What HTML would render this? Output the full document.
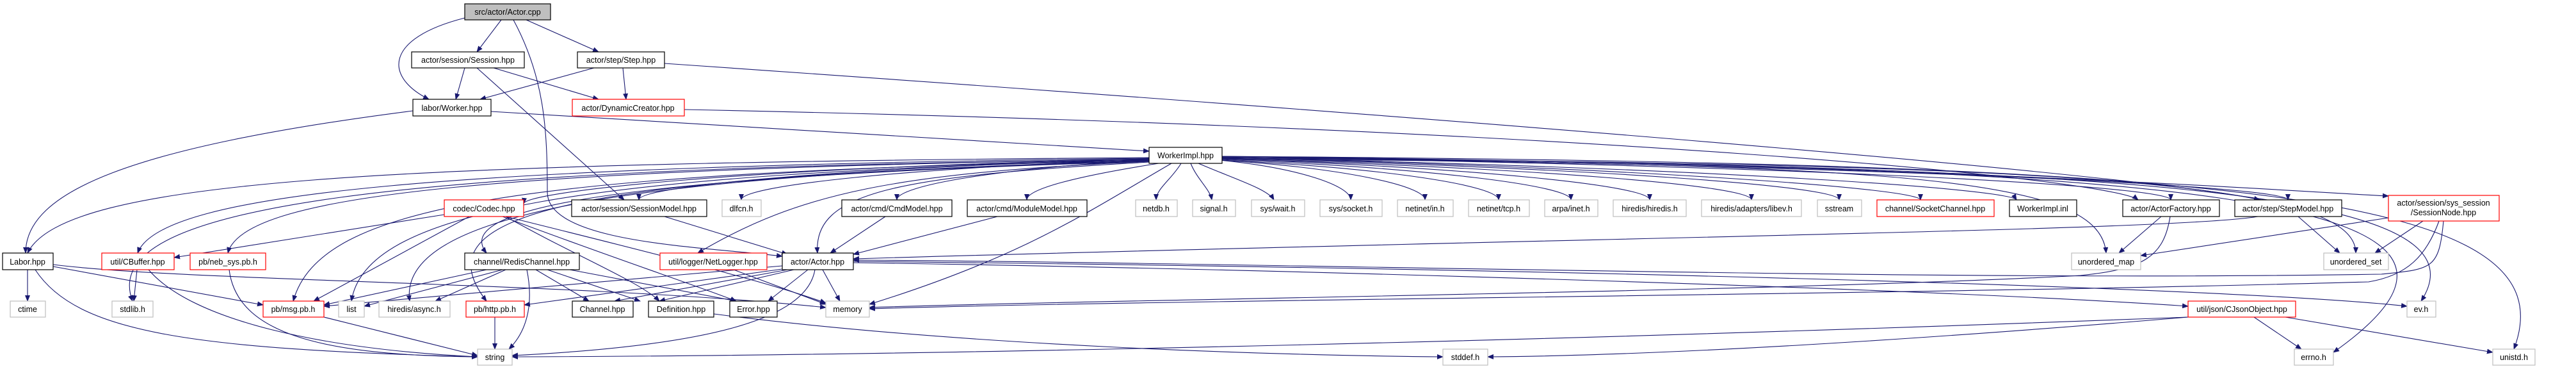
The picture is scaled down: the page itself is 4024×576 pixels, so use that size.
<!DOCTYPE html>
<html><head><meta charset="utf-8"><style>
html,body{margin:0;padding:0;background:#fff;}
svg{display:block;}
text{font-family:"Liberation Sans",sans-serif;font-size:12.5px;text-anchor:middle;fill:#000;}
.e{fill:none;stroke:#191970;stroke-width:1.1;marker-end:url(#a);}
.b{fill:#fff;stroke:#000;stroke-width:1.2;}
.r{fill:#fff;stroke:#f00;stroke-width:1.2;}
.g{fill:#fff;stroke:#bfbfbf;stroke-width:1.2;}
</style></head><body>
<svg width="4024" height="576" viewBox="0 0 4024 576" xmlns="http://www.w3.org/2000/svg">
<defs><marker id="a" markerWidth="10" markerHeight="8" refX="9" refY="4" orient="auto" markerUnits="userSpaceOnUse"><path d="M0,0 L10,4 L0,8 z" fill="#191970"/></marker></defs>
<g>
<!-- Actor.cpp -->
<path class="e" d="M726 28 C600 60 600 120 670 155"/>
<path class="e" d="M783 31 L745 81"/>
<path class="e" d="M822 31 L935 81"/>
<path class="e" d="M802 31 C850 120 855 200 855 300 C855 380 1100 385 1222 400"/>
<!-- Session -->
<path class="e" d="M726 106 L712 155"/>
<path class="e" d="M771 106 L935 155"/>
<path class="e" d="M745 106 L975 312"/>
<!-- Step -->
<path class="e" d="M928 106 L750 155"/>
<path class="e" d="M973 106 L978 155"/>
<path class="e" d="M1038 99 C2500 200 3400 280 3530 312"/>
<!-- Worker -->
<path class="e" d="M767 174 L1795 236"/>
<path class="e" d="M645 173 C200 230 40 300 40 395"/>
<!-- Dyn -->
<path class="e" d="M1069 171 C2500 200 3300 280 3340 312"/>
<!-- WorkerImpl to row4 -->
<path class="e" d="M1800 248 C1143 262 820 300 818 318"/>
<path class="e" d="M1800 248 C1319 262 998 290 998 312"/>
<path class="e" d="M1800 249 C1415 262 1158 290 1158 312"/>
<path class="e" d="M1800 250 C1561 262 1401 290 1401 312"/>
<path class="e" d="M1810 255 C1682 275 1604 295 1604 312"/>
<path class="e" d="M1845 255 C1830 280 1806 295 1806 312"/>
<path class="e" d="M1860 255 C1870 280 1890 295 1893 312"/>
<path class="e" d="M1872 255 C1930 280 1980 295 1990 312"/>
<path class="e" d="M1905 250 C2028 262 2110 290 2110 312"/>
<path class="e" d="M1905 250 C2098 262 2226 290 2226 312"/>
<path class="e" d="M1905 250 C2167 262 2341 290 2341 312"/>
<path class="e" d="M1905 249 C2235 262 2454 290 2454 312"/>
<path class="e" d="M1905 248 C2309 262 2577 290 2577 312"/>
<path class="e" d="M1905 248 C2404 262 2736 290 2736 312"/>
<path class="e" d="M1905 247 C2486 262 2873 290 2873 312"/>
<path class="e" d="M1905 246 C2577 262 3000 295 3000 312"/>
<path class="e" d="M1905 246 C2680 262 3140 295 3150 312"/>
<path class="e" d="M1905 245 C2800 258 3391 290 3391 312"/>
<path class="e" d="M1905 245 C2910 258 3574 290 3574 312"/>
<path class="e" d="M1905 244 C3000 255 3600 300 3731 306"/>
<!-- WorkerImpl to lower left -->
<path class="e" d="M1795 246 C600 255 100 280 43 395"/>
<path class="e" d="M1795 247 C700 260 250 300 215 395"/>
<path class="e" d="M1795 248 C800 265 380 300 356 395"/>
<path class="e" d="M1795 250 C800 270 500 320 458 470"/>
<path class="e" d="M1795 250 C900 270 570 330 549 470"/>
<path class="e" d="M1795 251 C1000 272 620 330 640 470"/>
<path class="e" d="M1795 252 C900 275 650 330 760 470"/>
<path class="e" d="M1795 252 C1000 275 700 320 760 395"/>
<path class="e" d="M1795 252 C1400 270 1250 300 1090 395"/>
<path class="e" d="M1795 253 C1400 275 1270 300 1277 395"/>
<path class="e" d="M1795 249 C600 262 150 320 207 470"/>
<path class="e" d="M1830 255 C1700 330 1600 400 1358 475"/>
<!-- WorkerImpl to lower right -->
<path class="e" d="M1909 245 C3300 260 3900 290 3782 470"/>
<path class="e" d="M1909 245 C3400 260 4000 300 3645 550"/>
<path class="e" d="M1909 244 C3500 255 4020 300 3927 545"/>
<path class="e" d="M1909 248 C3000 255 3280 280 3290 395"/>
<path class="e" d="M1909 247 C3200 255 3680 280 3680 395"/>
<!-- Codec -->
<path class="e" d="M694 335 L272 402"/>
<path class="e" d="M733 338 L490 470"/>
<path class="e" d="M790 338 C900 400 1000 440 1030 470"/>
<path class="e" d="M785 338 C950 400 1100 450 1150 470"/>
<path class="e" d="M790 338 C1000 390 1200 440 1290 473"/>
<!-- Redis -->
<path class="e" d="M760 421 L506 476"/>
<path class="e" d="M785 421 L569 478"/>
<path class="e" d="M790 421 L680 470"/>
<path class="e" d="M823 421 C835 480 820 520 795 545"/>
<path class="e" d="M837 421 L920 470"/>
<path class="e" d="M855 421 L1000 470"/>
<path class="e" d="M890 421 L1150 470"/>
<!-- Labor -->
<path class="e" d="M43 421 L43 470"/>
<path class="e" d="M55 421 C120 520 300 545 746 557"/>
<path class="e" d="M83 416 L411 476"/>
<path class="e" d="M83 413 C300 440 900 440 1290 480"/>
<!-- CBuf / neb / msg / http -->
<path class="e" d="M214 421 L209 470"/>
<path class="e" d="M232 421 C300 500 500 545 746 557"/>
<path class="e" d="M358 421 C370 520 500 555 746 557"/>
<path class="e" d="M506 495 L746 555"/>
<path class="e" d="M773 495 L773 545"/>
<!-- NetLogger -->
<path class="e" d="M1146 421 L1290 475"/>
<!-- Actor.hpp -->
<path class="e" d="M1222 415 L506 478"/>
<path class="e" d="M1240 421 L1030 470"/>
<path class="e" d="M1262 421 L1200 470"/>
<path class="e" d="M1285 421 L1312 470"/>
<path class="e" d="M1273 421 C1260 500 1100 540 800 555"/>
<path class="e" d="M1230 421 L960 470"/>
<path class="e" d="M1222 420 L819 476"/>
<path class="e" d="M1333 410 C2000 420 3000 450 3418 478"/>
<path class="e" d="M1333 408 C2500 420 3500 450 3760 478"/>
<!-- models to Actor.hpp -->
<path class="e" d="M1038 338 L1230 397"/>
<path class="e" d="M1383 338 L1297 395"/>
<path class="e" d="M1558 338 L1333 397"/>
<!-- Definition -->
<path class="e" d="M1115 490 C1500 540 2000 555 2254 557"/>
<!-- CJson -->
<path class="e" d="M3418 495 C2500 530 1500 555 800 557"/>
<path class="e" d="M3418 495 C3000 530 2600 555 2324 557"/>
<path class="e" d="M3521 495 L3595 545"/>
<path class="e" d="M3570 495 L3894 550"/>
<!-- ActorFactory / StepModel / SessionNode -->
<path class="e" d="M3376 338 L3310 395"/>
<path class="e" d="M3390 338 C3380 400 3350 420 3250 430 C2800 455 1700 468 1358 480"/>
<path class="e" d="M3527 338 C3400 360 2500 370 1333 404"/>
<path class="e" d="M3590 338 L3655 395"/>
<path class="e" d="M3731 340 L3344 399"/>
<path class="e" d="M3785 345 L3710 395"/>
<path class="e" d="M3810 345 C3790 400 3760 430 3700 440 C3000 460 1800 468 1358 482"/>
<path class="e" d="M3817 345 C3810 420 3800 420 3720 428 C3000 440 2000 410 1333 406"/>
</g>
<g>
<rect x="726" y="6" width="134" height="25" fill="#bfbfbf" stroke="#000" stroke-width="1.2"/><text x="793" y="23">src/actor/Actor.cpp</text>
<rect class="b" x="643" y="81" width="176" height="25"/><text x="731" y="98">actor/session/Session.hpp</text>
<rect class="b" x="902" y="81" width="136" height="25"/><text x="970" y="98">actor/step/Step.hpp</text>
<rect class="b" x="645" y="155" width="122" height="26"/><text x="706" y="173">labor/Worker.hpp</text>
<rect class="r" x="894" y="155" width="175" height="26"/><text x="981" y="173">actor/DynamicCreator.hpp</text>
<rect class="b" x="1795" y="230" width="114" height="25"/><text x="1852" y="247">WorkerImpl.hpp</text>

<rect class="r" x="694" y="312" width="124" height="26"/><text x="756" y="330">codec/Codec.hpp</text>
<rect class="b" x="893" y="312" width="211" height="26"/><text x="998" y="330">actor/session/SessionModel.hpp</text>
<rect class="g" x="1128" y="312" width="61" height="26"/><text x="1158" y="330">dlfcn.h</text>
<rect class="b" x="1315" y="312" width="172" height="26"/><text x="1401" y="330">actor/cmd/CmdModel.hpp</text>
<rect class="b" x="1511" y="312" width="187" height="26"/><text x="1604" y="330">actor/cmd/ModuleModel.hpp</text>
<rect class="g" x="1774" y="312" width="65" height="26"/><text x="1806" y="330">netdb.h</text>
<rect class="g" x="1863" y="312" width="67" height="26"/><text x="1896" y="330">signal.h</text>
<rect class="g" x="1955" y="312" width="83" height="26"/><text x="1996" y="330">sys/wait.h</text>
<rect class="g" x="2062" y="312" width="97" height="26"/><text x="2110" y="330">sys/socket.h</text>
<rect class="g" x="2183" y="312" width="87" height="26"/><text x="2226" y="330">netinet/in.h</text>
<rect class="g" x="2294" y="312" width="95" height="26"/><text x="2341" y="330">netinet/tcp.h</text>
<rect class="g" x="2413" y="312" width="83" height="26"/><text x="2454" y="330">arpa/inet.h</text>
<rect class="g" x="2520" y="312" width="114" height="26"/><text x="2577" y="330">hiredis/hiredis.h</text>
<rect class="g" x="2658" y="312" width="156" height="26"/><text x="2736" y="330">hiredis/adapters/libev.h</text>
<rect class="g" x="2839" y="312" width="69" height="26"/><text x="2873" y="330">sstream</text>
<rect class="r" x="2932" y="312" width="183" height="26"/><text x="3023" y="330">channel/SocketChannel.hpp</text>
<rect class="b" x="3139" y="312" width="105" height="26"/><text x="3191" y="330">WorkerImpl.inl</text>
<rect class="b" x="3316" y="312" width="151" height="26"/><text x="3391" y="330">actor/ActorFactory.hpp</text>
<rect class="b" x="3491" y="312" width="167" height="26"/><text x="3574" y="330">actor/step/StepModel.hpp</text>
<rect class="r" x="3731" y="305" width="173" height="40"/><text x="3817" y="321">actor/session/sys_session</text><text x="3817" y="336">/SessionNode.hpp</text>

<rect class="b" x="4" y="395" width="79" height="26"/><text x="43" y="413">Labor.hpp</text>
<rect class="r" x="159" y="395" width="113" height="26"/><text x="215" y="413">util/CBuffer.hpp</text>
<rect class="r" x="297" y="395" width="118" height="26"/><text x="356" y="413">pb/neb_sys.pb.h</text>
<rect class="b" x="726" y="395" width="179" height="26"/><text x="815" y="413">channel/RedisChannel.hpp</text>
<rect class="r" x="1031" y="395" width="167" height="26"/><text x="1114" y="413">util/logger/NetLogger.hpp</text>
<rect class="b" x="1222" y="395" width="111" height="26"/><text x="1277" y="413">actor/Actor.hpp</text>
<rect class="g" x="3236" y="395" width="108" height="26"/><text x="3290" y="413">unordered_map</text>
<rect class="g" x="3630" y="395" width="101" height="26"/><text x="3680" y="413">unordered_set</text>

<rect class="g" x="16" y="470" width="55" height="25"/><text x="43" y="487">ctime</text>
<rect class="g" x="175" y="470" width="64" height="25"/><text x="207" y="487">stdlib.h</text>
<rect class="r" x="411" y="470" width="95" height="25"/><text x="458" y="487">pb/msg.pb.h</text>
<rect class="g" x="529" y="470" width="40" height="25"/><text x="549" y="487">list</text>
<rect class="g" x="592" y="470" width="111" height="25"/><text x="647" y="487">hiredis/async.h</text>
<rect class="r" x="728" y="470" width="91" height="25"/><text x="773" y="487">pb/http.pb.h</text>
<rect class="b" x="894" y="470" width="95" height="25"/><text x="941" y="487">Channel.hpp</text>
<rect class="b" x="1013" y="470" width="102" height="25"/><text x="1064" y="487">Definition.hpp</text>
<rect class="b" x="1140" y="470" width="74" height="25"/><text x="1177" y="487">Error.hpp</text>
<rect class="g" x="1290" y="470" width="68" height="25"/><text x="1324" y="487">memory</text>
<rect class="r" x="3418" y="470" width="168" height="25"/><text x="3502" y="487">util/json/CJsonObject.hpp</text>
<rect class="g" x="3760" y="470" width="45" height="25"/><text x="3782" y="487">ev.h</text>

<rect class="g" x="746" y="545" width="54" height="25"/><text x="773" y="562">string</text>
<rect class="g" x="2254" y="545" width="70" height="25"/><text x="2289" y="562">stddef.h</text>
<rect class="g" x="3584" y="545" width="61" height="25"/><text x="3614" y="562">errno.h</text>
<rect class="g" x="3894" y="545" width="66" height="25"/><text x="3927" y="562">unistd.h</text>
</g>
</svg>
</body></html>
